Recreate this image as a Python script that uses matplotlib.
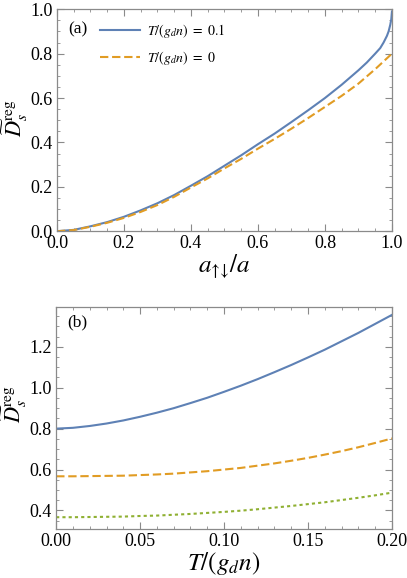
import numpy as np
import matplotlib
matplotlib.use("Agg")
import matplotlib.pyplot as plt
from matplotlib.ticker import MultipleLocator

plt.rcParams['font.family'] = ['Liberation Serif', 'DejaVu Serif']
plt.rcParams['mathtext.fontset'] = 'stix'

# panel (a): D_s^reg vs a_updown/a
a_blue = [0, 0.05, 0.1, 0.15, 0.2, 0.25, 0.3, 0.35, 0.4, 0.45, 0.5, 0.55, 0.6, 0.65, 0.7,
          0.75, 0.8, 0.85, 0.9, 0.925, 0.95, 0.965, 0.975, 0.985, 0.99, 0.995, 0.998, 1.0]
D_T01 = [0, 0.006, 0.022, 0.041, 0.065, 0.094, 0.126, 0.163, 0.205, 0.248, 0.295, 0.342, 0.392, 0.44, 0.492,
         0.545, 0.6, 0.66, 0.725, 0.76, 0.80, 0.825, 0.85, 0.88, 0.90, 0.93, 0.955, 0.99]
a_orange = [0, 0.05, 0.1, 0.15, 0.2, 0.25, 0.3, 0.35, 0.4, 0.45, 0.5, 0.55, 0.6, 0.65, 0.7,
            0.75, 0.8, 0.85, 0.9, 0.95, 1.0]
D_T0 = [0, 0.005, 0.02, 0.038, 0.06, 0.087, 0.118, 0.155, 0.197, 0.238, 0.283, 0.326, 0.372, 0.416, 0.462,
        0.51, 0.56, 0.61, 0.665, 0.73, 0.80]

# panel (b): D_s^reg vs T/(g_d n)
T_vals = [0, 0.01, 0.02, 0.03, 0.04, 0.05, 0.06, 0.07, 0.08, 0.09, 0.10,
          0.11, 0.12, 0.13, 0.14, 0.15, 0.16, 0.17, 0.18, 0.19, 0.20]
D_b1 = [0.800, 0.804, 0.813, 0.825, 0.840, 0.858, 0.878, 0.900, 0.925, 0.951, 0.980,
        1.010, 1.042, 1.076, 1.111, 1.148, 1.186, 1.227, 1.268, 1.312, 1.356]
D_b2 = [0.567, 0.567, 0.568, 0.569, 0.570, 0.573, 0.576, 0.580, 0.586, 0.592, 0.600,
        0.608, 0.619, 0.630, 0.643, 0.657, 0.673, 0.690, 0.709, 0.730, 0.752]
D_b3 = [0.367, 0.367, 0.368, 0.369, 0.370, 0.373, 0.375, 0.379, 0.383, 0.388, 0.393,
        0.399, 0.406, 0.414, 0.422, 0.431, 0.440, 0.451, 0.462, 0.474, 0.487]

blue = '#5E81B5'
orange = '#E19C24'
green = '#8FB032'
frame = '#8a8a8a'

fig = plt.figure(figsize=(4.07, 5.78), dpi=100)
ax1 = fig.add_axes([0.140, 0.600, 0.823, 0.384])
ax2 = fig.add_axes([0.138, 0.085, 0.825, 0.384])


def style_axes(ax):
    for sp in ax.spines.values():
        sp.set_color(frame)
        sp.set_linewidth(0.9)
    ax.tick_params(which='both', direction='in', top=True, right=True,
                   color=frame, labelsize=13, pad=3)
    ax.tick_params(which='major', length=5, width=0.8)
    ax.tick_params(which='minor', length=2.5, width=0.6)


ylab = r'$\widetilde{D}_s^{\mathrm{reg}}$'

ax1.plot(a_blue, D_T01, color=blue, lw=1.5, label=r'$T/(g_d n)\ =\ 0.1$')
ax1.plot(a_orange, D_T0, color=orange, lw=1.5, ls=(0, (4, 1.8)), label=r'$T/(g_d n)\ =\ 0$')
ax1.set_xlim(0, 1)
ax1.set_ylim(0, 1)
ax1.xaxis.set_major_locator(MultipleLocator(0.2))
ax1.xaxis.set_minor_locator(MultipleLocator(0.05))
ax1.yaxis.set_major_locator(MultipleLocator(0.2))
ax1.yaxis.set_minor_locator(MultipleLocator(0.05))
style_axes(ax1)
ax1.set_xlabel(r'$a_{↑↓}/a$', fontsize=18, labelpad=0)
ax1.set_ylabel(ylab, fontsize=16)
ax1.yaxis.set_label_coords(-0.08, 0.51)
ax1.text(0.033, 0.91, '(a)', transform=ax1.transAxes, fontsize=12.5, va='center')
ax1.legend(loc='upper left', bbox_to_anchor=(0.112, 0.967), frameon=False, fontsize=10,
           handlelength=2.9, handletextpad=0.5, labelspacing=0.65, borderaxespad=0)

ax2.plot(T_vals, D_b1, color=blue, lw=1.5)
ax2.plot(T_vals, D_b2, color=orange, lw=1.5, ls=(0, (4, 1.8)))
ax2.plot(T_vals, D_b3, color=green, lw=1.5, ls=(0, (1.5, 1.5)))
ax2.set_xlim(0, 0.2)
ax2.set_ylim(0.31, 1.395)
ax2.xaxis.set_major_locator(MultipleLocator(0.05))
ax2.xaxis.set_minor_locator(MultipleLocator(0.01))
ax2.yaxis.set_major_locator(MultipleLocator(0.2))
ax2.yaxis.set_minor_locator(MultipleLocator(0.05))
ax2.xaxis.set_major_formatter(lambda v, p: f'{v:.2f}')
ax2.yaxis.set_major_formatter(lambda v, p: f'{v:.1f}')
style_axes(ax2)
ax2.set_xlabel(r'$T/(g_d n)$', fontsize=18, labelpad=0)
ax2.set_ylabel(ylab, fontsize=16)
ax2.yaxis.set_label_coords(-0.08, 0.56)
ax2.text(0.033, 0.93, '(b)', transform=ax2.transAxes, fontsize=12.5, va='center')

fig.savefig('out.png', dpi=100)
